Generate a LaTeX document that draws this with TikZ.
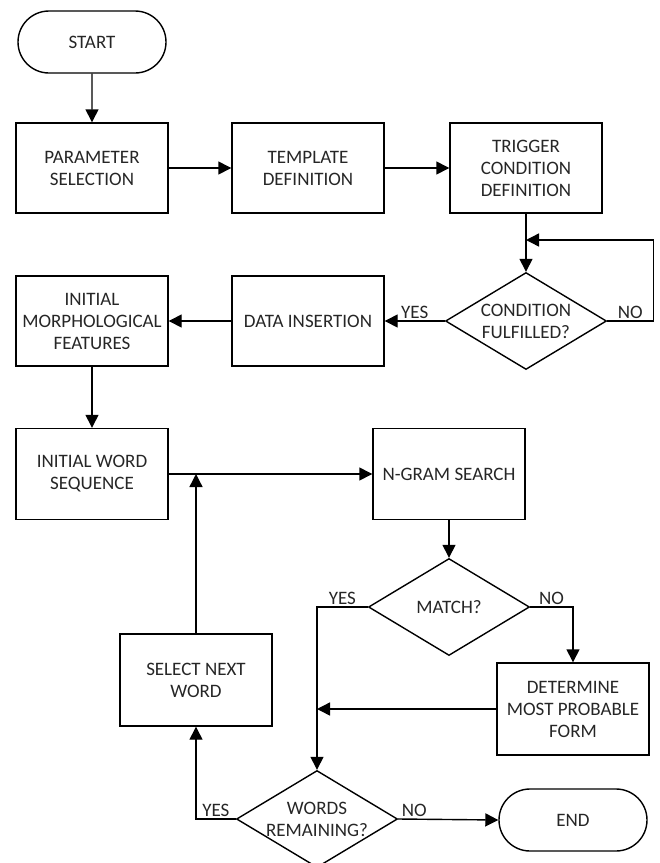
\documentclass[tikz,border=0pt]{standalone}
\usepackage{fontspec}
\setmainfont{Carlito}
\usetikzlibrary{arrows.meta,shapes}

\begin{document}
\begin{tikzpicture}[
      x=1pt, y=-1pt,
      font=\fontsize{19}{22}\selectfont,
      >={Triangle[length=13pt,width=13pt]},
      procbox/.style={draw, line width=1.4pt, minimum width=152pt, minimum height=90pt,
                  inner sep=2pt, align=center, text=black!85},
      term/.style={rounded rectangle, draw, line width=1.4pt, minimum width=152pt,
                  minimum height=62pt, inner sep=2pt, text=black!85},
      decision/.style={diamond, draw, line width=1.4pt, minimum width=161pt,
                  minimum height=97pt, inner sep=0pt},
      dtext/.style={align=center, text=black!85},
      flow/.style={->, line width=1.4pt},
      yn/.style={inner sep=2pt, text=black!85},
    ]
    \useasboundingbox (0,0) rectangle (660,863);

    % ---------- set-up ----------
    \node[term]    (start)  at (92,42)   {START};
    \node[procbox] (param)  at (92,168)  {PARAMETER\\SELECTION};
    \node[procbox] (templ)  at (308,168) {TEMPLATE\\DEFINITION};
    \node[procbox] (trig)   at (526,168) {TRIGGER\\CONDITION\\DEFINITION};

    \node[decision, label={[dtext]center:{CONDITION\\FULFILLED?}}] (cond) at (526,321) {};
    \node[procbox] (insert) at (308,321) {DATA INSERTION};
    \node[procbox] (morph)  at (92,321)  {INITIAL\\MORPHOLOGICAL\\FEATURES};

    % ---------- word loop ----------
    \node[procbox, minimum height=91pt] (seq)   at (92,474)  {INITIAL WORD\\SEQUENCE};
    \node[procbox, minimum height=91pt] (ngram) at (449,474) {N-GRAM SEARCH};
    \node[decision, label={[dtext]center:{MATCH?}}] (match) at (449,607) {};
    \node[procbox, minimum height=92pt] (determ) at (573,709) {DETERMINE\\MOST PROBABLE\\FORM};
    \node[procbox, minimum height=92pt] (select) at (196,680) {SELECT NEXT\\WORD};
    \node[decision, label={[dtext]center:{WORDS\\REMAINING?}}] (words) at (317,819) {};
    \node[term]    (stop)   at (573,820) {END};

    % ---------- connectors ----------
    \draw[flow] (start) -- (param);
    \draw[flow] (param) -- (templ);
    \draw[flow] (templ) -- (trig);
    \draw[flow] (trig) -- (cond);
    \coordinate (wait) at (526,240);
    \draw[flow] (cond.east) -- node[yn, above] {NO} ++(46,0) |- (wait);
    \draw[flow] (cond.west) -- node[yn, above] {YES} (insert.east);
    \draw[flow] (insert) -- (morph);
    \draw[flow] (morph) -- (seq);

    \draw[flow] (seq) -- (ngram);
    \draw[flow] (select.north) -- (select.north |- seq.east);
    \draw[flow] (ngram) -- (match);
    \draw[flow] (match.west) -| node[yn, above, pos=0.25] {YES} (words.north);
    \draw[flow] (match.east) -| node[yn, above, pos=0.25] {NO} (determ.north);
    \draw[flow] (determ.west) -- (determ.west -| words.north);
    \draw[flow] (words.west) -| node[yn, above, pos=0.25] {YES} (select.south);
    \draw[flow] (words.east) -- node[yn, above, pos=0.16] {NO} (stop.west);

  \end{tikzpicture}
\end{document}
